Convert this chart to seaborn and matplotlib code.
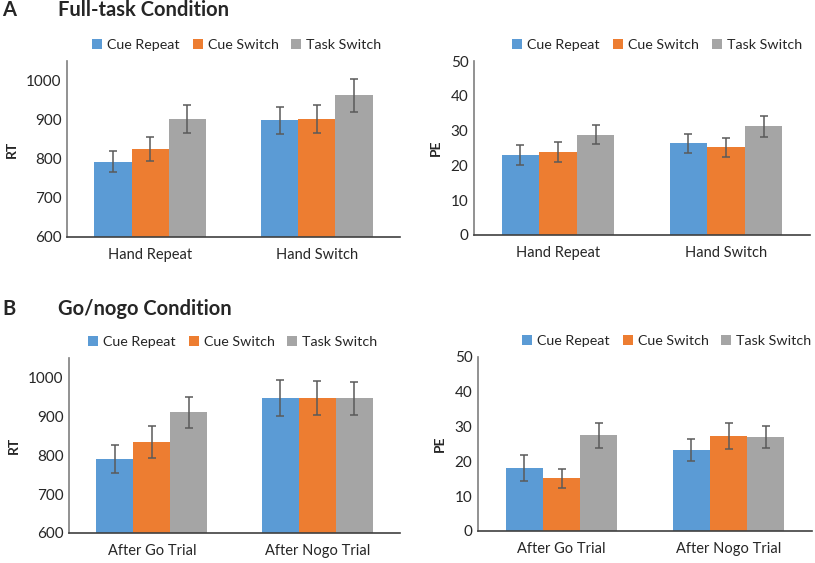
import matplotlib
matplotlib.use("Agg")
import matplotlib.pyplot as plt
import seaborn as sns
import pandas as pd

# Data
cue_types = ["Cue Repeat", "Cue Switch", "Task Switch"]
hand_levels = ["Hand Repeat", "Hand Switch"]
trial_levels = ["After Go Trial", "After Nogo Trial"]

# Panel A: full-task condition (rows = hand level, cols = cue type)
rt_full = [[793, 825, 902], [898, 902, 962]]
rt_full_err = [[28, 30, 36], [35, 35, 43]]
pe_full = [[23.0, 23.8, 28.8], [26.3, 25.2, 31.2]]
pe_full_err = [[3.0, 2.8, 2.7], [2.8, 2.7, 3.0]]

# Panel B: go/nogo condition
rt_gonogo = [[790, 834, 910], [947, 947, 946]]
rt_gonogo_err = [[36, 40, 40], [46, 44, 42]]
pe_gonogo = [[18.2, 15.1, 27.5], [23.3, 27.3, 27.0]]
pe_gonogo_err = [[3.7, 2.7, 3.6], [3.2, 3.6, 3.2]]

colors = ["#5B9BD5", "#ED7D31", "#A5A5A5"]

sns.set_theme(style="white")
plt.rcParams["font.family"] = ["Lato", "DejaVu Sans"]


def to_frame(levels, values, errs):
    rows = []
    for i, lev in enumerate(levels):
        for j, cue in enumerate(cue_types):
            rows.append({"level": lev, "cue": cue, "value": values[i][j], "err": errs[i][j]})
    return pd.DataFrame(rows)


def draw_panel(fig, rect, levels, values, errs, ylim, yticks, ylabel, legend_x):
    ax = fig.add_axes(rect)
    df = to_frame(levels, values, errs)
    sns.barplot(data=df, x="level", y="value", hue="cue", hue_order=cue_types,
                order=levels, palette=colors, width=0.67, errorbar=None,
                saturation=1, linewidth=0, ax=ax)
    # error bars on bar centres
    bar_groups = list(ax.containers)
    for j, cont in enumerate(bar_groups):
        for i, bar in enumerate(cont.patches):
            cx = bar.get_x() + bar.get_width() / 2
            ax.errorbar(cx, values[i][j], yerr=errs[i][j], color="#5a5a5a",
                        lw=1.1, capsize=3, capthick=1.1)
    ax.set_ylim(*ylim)
    ax.set_yticks(yticks)
    ax.set_xlim(-0.5, 1.5)
    ax.set_xlabel("")
    ax.set_ylabel(ylabel, fontsize=10, fontweight="bold", labelpad=6)
    ax.tick_params(axis="y", labelsize=11, length=0, pad=4)
    ax.tick_params(axis="x", labelsize=10.5, length=0, pad=8)
    for s in ["top", "right"]:
        ax.spines[s].set_visible(False)
    ax.spines["left"].set_color("#7f7f7f")
    ax.spines["bottom"].set_color("#404040")
    ax.spines["left"].set_linewidth(1.2)
    ax.spines["bottom"].set_linewidth(1.2)
    ax.legend(loc="center", bbox_to_anchor=(legend_x, 1.09), ncol=3, frameon=False,
              fontsize=10.3, handlelength=0.7, handleheight=0.7, handletextpad=0.35,
              columnspacing=0.9, borderaxespad=0, borderpad=0)
    return ax


W, H = 815, 563
fig = plt.figure(figsize=(W / 100, H / 100), dpi=100)


def rect(left, right, top, bottom):
    return [left / W, (H - bottom) / H, (right - left) / W, (bottom - top) / H]


draw_panel(fig, rect(67, 400, 61, 237), hand_levels, rt_full, rt_full_err,
           (600, 1050), [600, 700, 800, 900, 1000], "RT", 0.51)
draw_panel(fig, rect(474, 810, 61, 235), hand_levels, pe_full, pe_full_err,
           (0, 50), [0, 10, 20, 30, 40, 50], "PE", 0.545)
draw_panel(fig, rect(69, 400, 358, 533), trial_levels, rt_gonogo, rt_gonogo_err,
           (600, 1050), [600, 700, 800, 900, 1000], "RT", 0.495)
draw_panel(fig, rect(478, 812, 357, 531), trial_levels, pe_gonogo, pe_gonogo_err,
           (0, 50), [0, 10, 20, 30, 40, 50], "PE", 0.565)

fig.text(2 / W, 1 - 10 / H, "A", fontsize=14.5, fontweight="bold", va="center", ha="left")
fig.text(58 / W, 1 - 10 / H, "Full-task Condition", fontsize=14.5, fontweight="bold",
         va="center", ha="left")
fig.text(2 / W, 1 - 309 / H, "B", fontsize=14.5, fontweight="bold", va="center", ha="left")
fig.text(58 / W, 1 - 309 / H, "Go/nogo Condition", fontsize=14.5, fontweight="bold",
         va="center", ha="left")

fig.savefig("out.png", dpi=100)
